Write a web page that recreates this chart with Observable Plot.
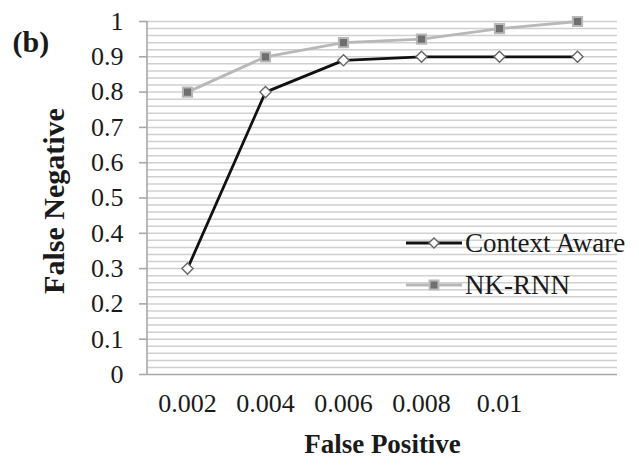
<!DOCTYPE html>
<html>
<head>
<meta charset="utf-8">
<script src="https://cdn.jsdelivr.net/npm/d3@7"></script>
<script src="https://cdn.jsdelivr.net/npm/@observablehq/plot@0.6"></script>
<style>
  html, body { margin: 0; padding: 0; background: #fff; }
  svg, svg text { font-family: "Liberation Serif", "Times New Roman", serif !important; }
</style>
</head>
<body>
<div id="chart"></div>
<script>
const xLabels = ["0.002", "0.004", "0.006", "0.008", "0.01", ""];
const contextAware = [0.3, 0.8, 0.89, 0.9, 0.9, 0.9];
const nkRnn = [0.8, 0.9, 0.94, 0.95, 0.98, 1.0];
const yTicks = [0, 0.1, 0.2, 0.3, 0.4, 0.5, 0.6, 0.7, 0.8, 0.9, 1];
const gridValues = d3.range(1, 51).map(i => i / 50);
const seriesNames = ["Context Aware", "NK-RNN"];

const caData = xLabels.map((x, i) => ({x, y: contextAware[i]}));
const nkData = xLabels.map((x, i) => ({x, y: nkRnn[i]}));

const serif = "'Liberation Serif', 'Times New Roman', serif";

const chart = Plot.plot({
  width: 639,
  height: 467,
  marginLeft: 147,
  marginRight: 22,
  marginTop: 21,
  marginBottom: 93,
  style: {fontFamily: serif, background: "#fff"},
  x: {type: "point", domain: xLabels, padding: 0.5},
  y: {domain: [0, 1]},
  marks: [
    Plot.ruleY(gridValues, {stroke: "#d0d0d0", strokeWidth: 1.5}),
    Plot.ruleY([0], {stroke: "#a8a8a8", strokeWidth: 1.6}),
    Plot.axisY({
      ticks: yTicks,
      tickSize: 8,
      tickPadding: 16,
      stroke: "#a8a8a8",
      strokeWidth: 1.6,
      fontSize: 26,
      fontFamily: serif,
      fill: "#1a1a1a",
      tickFormat: d => String(d),
      label: null
    }),
    Plot.axisX({
      tickSize: 0,
      tickPadding: 19,
      fontSize: 26,
      fontFamily: serif,
      fill: "#1a1a1a",
      label: null
    }),
    Plot.line(nkData, {x: "x", y: "y", stroke: "#b8b8b8", strokeWidth: 2.8}),
    Plot.line(caData, {x: "x", y: "y", stroke: "#111", strokeWidth: 2.8}),
    Plot.dot(nkData, {x: "x", y: "y", symbol: "square", r: 5.2, fill: "#6f6f6f", stroke: "#b8b8b8", strokeWidth: 2}),
    Plot.dot(caData, {x: "x", y: "y", symbol: "diamond2", r: 5, fill: "#fff", stroke: "#666", strokeWidth: 1.4}),
    Plot.text(["False Negative"], {frameAnchor: "left", dx: -93, dy: 3, rotate: -90, fontSize: 30, fontFamily: serif, fontWeight: "bold", fill: "#1a1a1a", textAnchor: "middle"}),
    Plot.text(["False Positive"], {frameAnchor: "bottom", dy: 78, fontSize: 27, fontFamily: serif, fontWeight: "bold", fill: "#1a1a1a", textAnchor: "middle"}),
    Plot.text(["(b)"], {frameAnchor: "top-left", dx: -135, dy: 9, fontSize: 30, fontFamily: serif, fontWeight: "bold", fill: "#1a1a1a", textAnchor: "start"})
  ]
});

// Left axis line and legend
const svg = d3.select(chart);
const yScale = chart.scale("y");
const xRange = chart.scale("x").range;
svg.append("line")
  .attr("x1", xRange[0]).attr("x2", xRange[0])
  .attr("y1", yScale.apply(0)).attr("y2", yScale.apply(1))
  .attr("stroke", "#a8a8a8").attr("stroke-width", 1.6);

const legend = svg.append("g").attr("text-anchor", "start");
const legendItems = [
  {name: seriesNames[0], y: 243, line: "#111", type: "diamond"},
  {name: seriesNames[1], y: 285, line: "#b8b8b8", type: "square"}
];
legendItems.forEach(it => {
  legend.append("line").attr("x1", 406).attr("x2", 462).attr("y1", it.y).attr("y2", it.y)
    .attr("stroke", it.line).attr("stroke-width", 2.8);
  if (it.type === "diamond") {
    legend.append("path").attr("transform", `translate(434,${it.y})`)
      .attr("d", d3.symbol(d3.symbolDiamond2, Math.PI * 4.6 * 4.6)())
      .attr("fill", "#fff").attr("stroke", "#666").attr("stroke-width", 1.4);
  } else {
    legend.append("path").attr("transform", `translate(434,${it.y})`)
      .attr("d", d3.symbol(d3.symbolSquare, Math.PI * 5 * 5)())
      .attr("fill", "#6f6f6f").attr("stroke", "#b8b8b8").attr("stroke-width", 2);
  }
  legend.append("text").attr("x", 465).attr("y", it.y).attr("dy", "0.35em")
    .attr("text-anchor", "start")
    .attr("font-size", 27).attr("fill", "#1a1a1a").attr("font-family", serif)
    .text(it.name);
});

document.getElementById("chart").appendChild(chart);
</script>
</body>
</html>
